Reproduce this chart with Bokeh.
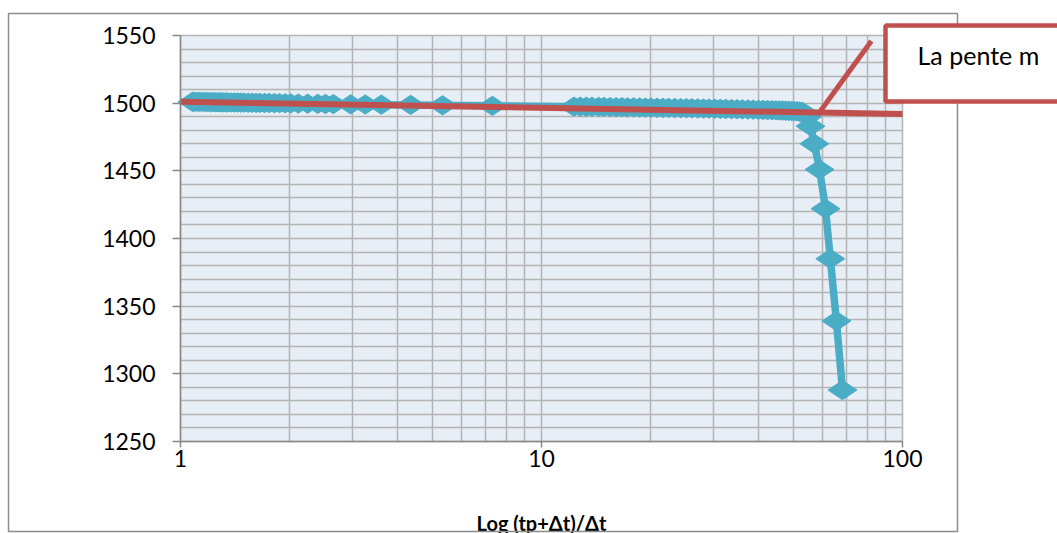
from bokeh.plotting import figure
from bokeh.models import (Range1d, FixedTicker, BoxAnnotation, Label,
                          LogAxis, LinearAxis, Grid, LogScale)
from bokeh.embed import file_html
from bokeh.resources import INLINE

# Horner plot data: (tp+dt)/dt ratio and pressure
ratio = [68.2, 65.6, 63.1, 61.2, 58.9, 57.0, 55.6, 54.5, 53.6, 52.7, 51.8, 51.0,
         50.1, 49.3, 48.4, 47.5, 46.6, 45.6, 44.6, 43.5, 42.3, 41.1, 39.9, 38.6,
         37.3, 36.0, 34.8, 33.6, 32.4, 31.3, 30.2, 29.1, 28.1, 27.1, 26.1, 25.2,
         24.3, 23.4, 22.5, 21.7, 20.9, 20.1, 19.4, 18.7, 18.0, 17.3, 16.7, 16.1,
         15.5, 14.9, 14.4, 13.8, 13.3, 12.8, 12.3,
         7.31, 5.32, 4.34, 3.60, 3.25, 2.96, 2.65, 2.52, 2.40, 2.25, 2.12, 2.02,
         1.95, 1.88, 1.82, 1.76, 1.71, 1.66, 1.62, 1.58, 1.54, 1.50, 1.47, 1.44,
         1.41, 1.38, 1.35, 1.33, 1.31, 1.29, 1.27, 1.25, 1.23, 1.21, 1.19, 1.17,
         1.15, 1.13, 1.11, 1.09, 1.08]
pressure = [1288, 1339, 1385, 1422, 1451, 1470, 1483, 1490, 1492.5, 1493.6, 1493.8, 1494.0,
            1494.1, 1494.2, 1494.3, 1494.4, 1494.5, 1494.6, 1494.7, 1494.8, 1494.9, 1495.0, 1495.1, 1495.2,
            1495.3, 1495.4, 1495.5, 1495.6, 1495.7, 1495.8, 1495.9, 1496.0, 1496.0, 1496.1, 1496.2, 1496.3,
            1496.3, 1496.4, 1496.5, 1496.5, 1496.6, 1496.7, 1496.7, 1496.8, 1496.9, 1496.9, 1497.0, 1497.0,
            1497.1, 1497.2, 1497.2, 1497.3, 1497.3, 1497.4, 1497.4,
            1498.0, 1498.4, 1498.7, 1498.9, 1499.0, 1499.1, 1499.3, 1499.4, 1499.5, 1499.6, 1499.7, 1499.8,
            1499.9, 1500.0, 1500.0, 1500.1, 1500.1, 1500.2, 1500.2, 1500.3, 1500.3, 1500.4, 1500.4, 1500.5,
            1500.5, 1500.5, 1500.6, 1500.6, 1500.6, 1500.7, 1500.7, 1500.7, 1500.8, 1500.8, 1500.8, 1500.9,
            1500.9, 1500.9, 1501.0, 1501.0, 1501.0]

# Straight-line (semi-log) fit
trend_x = [1, 100]
trend_y = [1501, 1492]

# Callout pointer
pointer_x = [58.5, 82.0]
pointer_y = [1492.2, 1546]

x_lim = (1, 100)
y_lim = (1250, 1550)
x_ticks = [1, 10, 100]
x_minor = [2, 3, 4, 5, 6, 7, 8, 9, 20, 30, 40, 50, 60, 70, 80, 90]
y_ticks = [1250, 1300, 1350, 1400, 1450, 1500, 1550]
y_minor = [v for v in range(1250, 1551, 10) if v % 50 != 0]

callout_text = "La pente m"
x_title = "Log (tp+\u0394t)/\u0394t"

BLUE = "#4BACC6"
RED = "#C0504D"
GRID = "#B4B4B4"
AXIS = "#878787"
FONT = "Lato"

# canvas geometry (pixels) of the plotting area inside the 1057x533 page
W, H = 1057, 533
PL, PR, PT, PB = 180, 902, 35, 441
dec_px = (PR - PL) / 2.0                 # pixels per decade
y_px = (PB - PT) / (y_lim[1] - y_lim[0])  # pixels per unit
x_range = Range1d(10 ** (-PL / dec_px), 10 ** ((W - PL) / dec_px))
y_range = Range1d(y_lim[0] - (H - PB) / y_px, y_lim[1] + PT / y_px)

p = figure(width=W, height=H, x_axis_type=None, y_axis_type=None,
           x_range=x_range, y_range=y_range,
           output_backend="svg", toolbar_location=None,
           min_border=0, min_border_left=0, min_border_right=0,
           min_border_top=0, min_border_bottom=0,
           background_fill_color="white", border_fill_color="white",
           outline_line_color=None)
p.x_scale = LogScale()

# plotting-area background
p.add_layout(BoxAnnotation(left=x_lim[0], right=x_lim[1], bottom=y_lim[0], top=y_lim[1],
                           fill_color="#E8EEF6", fill_alpha=1.0, line_alpha=0,
                           level="image"))

xt = FixedTicker(ticks=x_ticks, minor_ticks=x_minor)
yt = FixedTicker(ticks=y_ticks, minor_ticks=y_minor)

xaxis = LogAxis(ticker=xt, fixed_location=y_lim[0], bounds=x_lim)
yaxis = LinearAxis(ticker=yt, fixed_location=x_lim[0], bounds=y_lim)
xaxis.major_label_overrides = {1: "1", 10: "10", 100: "100"}
for ax in (xaxis, yaxis):
    ax.axis_line_color = AXIS
    ax.axis_line_width = 1.5
    ax.major_tick_line_color = AXIS
    ax.major_tick_line_width = 1.5
    ax.major_tick_in = 0
    ax.minor_tick_line_color = None
    ax.major_label_text_font = FONT
    ax.major_label_text_font_size = "23px"
    ax.major_label_text_color = "#000000"
xaxis.major_tick_out = 6
xaxis.major_label_standoff = 2
yaxis.major_tick_out = 8
yaxis.major_label_standoff = 17
xaxis.axis_label = x_title
xaxis.axis_label_text_font = FONT
xaxis.axis_label_text_font_style = "bold"
xaxis.axis_label_text_font_size = "20px"
xaxis.axis_label_text_color = "#000000"
xaxis.axis_label_standoff = 41
p.add_layout(xaxis, "below")
p.add_layout(yaxis, "left")

xgrid = Grid(dimension=0, ticker=xt, bounds=x_lim)
ygrid = Grid(dimension=1, ticker=yt, bounds=y_lim)
for g, cb in ((xgrid, y_lim), (ygrid, x_lim)):
    g.grid_line_color = GRID
    g.grid_line_width = 1.5
    g.minor_grid_line_color = GRID
    g.minor_grid_line_width = 1.5
    g.cross_bounds = cb
    p.add_layout(g, "center")

p.line(ratio, pressure, line_color=BLUE, line_width=7.5)
p.scatter(ratio, pressure, marker="diamond", angle=1.570796, size=29,
          fill_color=BLUE, line_color=BLUE, line_width=1)
p.line(trend_x, trend_y, line_color=RED, line_width=6)
p.line(pointer_x, pointer_y, line_color=RED, line_width=5)

# outer chart frame
p.add_layout(BoxAnnotation(left=8, right=957, top=13, bottom=531,
                           left_units="canvas", right_units="canvas",
                           top_units="canvas", bottom_units="canvas",
                           fill_alpha=0, line_color="#8C8C8C", line_alpha=1.0,
                           line_width=1.5))
# callout box
p.add_layout(BoxAnnotation(left=885, right=1080, top=25, bottom=101,
                           left_units="canvas", right_units="canvas",
                           top_units="canvas", bottom_units="canvas",
                           fill_color="white", fill_alpha=1.0,
                           line_color=RED, line_alpha=1.0, line_width=4.5))
p.add_layout(Label(x=917, y=54, x_units="canvas", y_units="canvas",
                   text=callout_text, text_font=FONT,
                   text_font_size="25px", text_color="#000000",
                   text_baseline="alphabetic"))

open("out.html", "w").write(file_html(p, INLINE))
